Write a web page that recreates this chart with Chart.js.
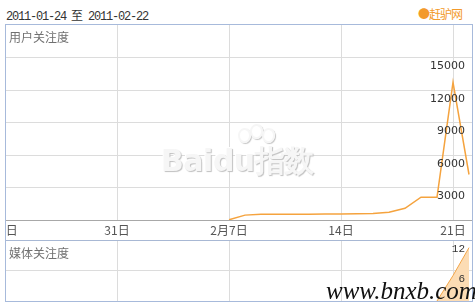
<!DOCTYPE html>
<html>
<head>
<meta charset="utf-8">
<script src="https://cdn.jsdelivr.net/npm/chart.js@4/dist/chart.umd.min.js"></script>
<style>
  body { margin: 0; width: 475px; height: 307px; background: #fff; position: relative; overflow: hidden; font-family: "Noto Sans CJK SC", sans-serif; }
  .abs { position: absolute; }
  #range { left: 6px; top: 6px; font: 12px "Liberation Mono", monospace; letter-spacing: -1.2px; color: #333; }
  #range span { font-family: "Noto Sans CJK SC"; letter-spacing: 0; margin: 0 5px; }
  #brand { left: 418px; top: 5px; font-size: 12px; color: #f39a2b; letter-spacing: -1px; }
  #frame { left: 5px; top: 24px; width: 466px; height: 276px; border: 1px solid #a7badb; }
  #c1 { left: 0; top: 0; }
  #c2 { left: 0; top: 215px; }
  .title { font-size: 12px; color: #707070; left: 3px; }
  #baidu { left: 161px; top: 141px; font: bold 30px "DejaVu Sans", sans-serif; color: #f6f6f6; text-shadow: 1px 1px 1px #c0c0c0, -1px -1px 0 #fff; letter-spacing: -0.5px; }
  .paw { width: 9px; height: 11px; border-radius: 50%; border: 2px solid #f6f6f6; box-shadow: 1px 1px 1px #c4c4c4; }
  #site { left: 326px; top: 277px; font: italic 25px "Liberation Serif", serif; color: #111; }
</style>
</head>
<body>
<div id="range" class="abs">2011-01-24<span>至</span>2011-02-22</div>
<div id="brand" class="abs">●赶驴网</div>
<div id="frame" class="abs">
  <canvas id="c1" class="abs" width="466" height="215"></canvas>
  <canvas id="c2" class="abs" width="466" height="61"></canvas>
  <div class="abs title" style="top:3px">用户关注度</div>
  <div class="abs title" style="top:219px">媒体关注度</div>
</div>
<div id="baidu" class="abs">Baidu指数</div>
<div class="abs paw" style="left:238px;top:128px"></div>
<div class="abs paw" style="left:250px;top:124px"></div>
<div class="abs paw" style="left:262px;top:128px"></div>
<div id="site" class="abs">www.bnxb.com</div>
<script>
// day index 0 = 2011-01-24, 29 = 2011-02-22
const dayIndex = Array.from({ length: 30 }, (_, i) => i);
const tickDays = [0, 7, 14, 21, 28];
const tickLabels = ['24日', '31日', '2月7日', '14日', '21日'];

// 用户关注度 (null = no data)
const userValues = [
    null, null, null, null, null, null, null,
    null, null, null, null, null, null, null,
    20, 450, 520, 520, 530, 540, 550,
    560, 580, 610, 710, 1080, 2100, 2100,
    12700, 4200
];
const userGrid = [0, 3000, 6000, 9000, 12000, 15000, 18000];
const userTicks = [3000, 6000, 9000, 12000, 15000];

// 媒体关注度
const mediaValues = [
    null, null, null, null, null, null, null,
    null, null, null, null, null, null, null,
    null, null, null, null, null, null, null,
    null, null, null, null, null, null, 0,
    5, 10.5
];
const mediaGrid = [0, 6, 12];
const mediaTicks = [6, 12];

const xMin = 1 / 16;
const xMax = xMin + 466 / 16;

function xScale(showLabels) {
    return {
        type: 'linear',
        min: xMin,
        max: xMax,
        afterBuildTicks: s => { s.ticks = tickDays.map(v => ({ value: v })); },
        afterFit: s => { s.height = showLabels ? 20 : 0; s.paddingLeft = 0; s.paddingRight = 0; },
        grid: { color: '#dcdcdc', drawTicks: false },
        border: { display: showLabels, color: '#a8a8a8' },
        ticks: {
            display: showLabels,
            autoSkip: false,
            maxRotation: 0,
            padding: 3,
            color: '#555',
            font: { family: 'Noto Sans CJK SC', size: 12 },
            callback: v => tickLabels[tickDays.indexOf(v)]
        }
    };
}

function yScale(values, shown, font, topColor) {
    const max = values[values.length - 1];
    return {
        position: 'right',
        min: 0,
        max: max,
        afterBuildTicks: s => { s.ticks = values.map(v => ({ value: v })); },
        afterFit: s => { s.width = 0; s.paddingTop = 0; s.paddingBottom = 0; },
        border: { display: false },
        grid: {
            drawTicks: false,
            color: values.map(v => v === 0 ? 'rgba(0,0,0,0)' : (v === max ? topColor : '#dcdcdc'))
        },
        ticks: {
            z: 1,
            autoSkip: false,
            mirror: true,
            crossAlign: 'near',
            padding: -7,
            labelOffset: 9,
            color: '#333',
            font: font,
            callback: v => shown.includes(v) ? String(v) : ''
        }
    };
}

const common = {
    responsive: false,
    animation: false,
    layout: { padding: 0 },
    plugins: { legend: { display: false }, tooltip: { enabled: false } }
};

new Chart(document.getElementById('c1'), {
    type: 'line',
    data: {
        datasets: [{
            data: dayIndex.map(i => ({ x: i, y: userValues[i] })),
            borderColor: '#f5a33e',
            borderWidth: 1.5,
            pointRadius: 0,
            tension: 0,
            spanGaps: false
        }]
    },
    options: {
        ...common,
        scales: {
            x: xScale(true),
            y: yScale(userGrid, userTicks, { family: 'DejaVu Sans', size: 11 }, 'rgba(0,0,0,0)')
        }
    }
});

new Chart(document.getElementById('c2'), {
    type: 'line',
    data: {
        datasets: [{
            data: dayIndex.map(i => ({ x: i, y: mediaValues[i] })),
            borderColor: '#f3a547',
            backgroundColor: '#fcdcb4',
            fill: 'origin',
            borderWidth: 1,
            pointRadius: 0,
            tension: 0
        }]
    },
    options: {
        ...common,
        scales: {
            x: xScale(false),
            y: yScale(mediaGrid, mediaTicks, { family: 'Liberation Mono', size: 11 }, '#a8b8d4')
        }
    }
});
</script>
</body>
</html>
